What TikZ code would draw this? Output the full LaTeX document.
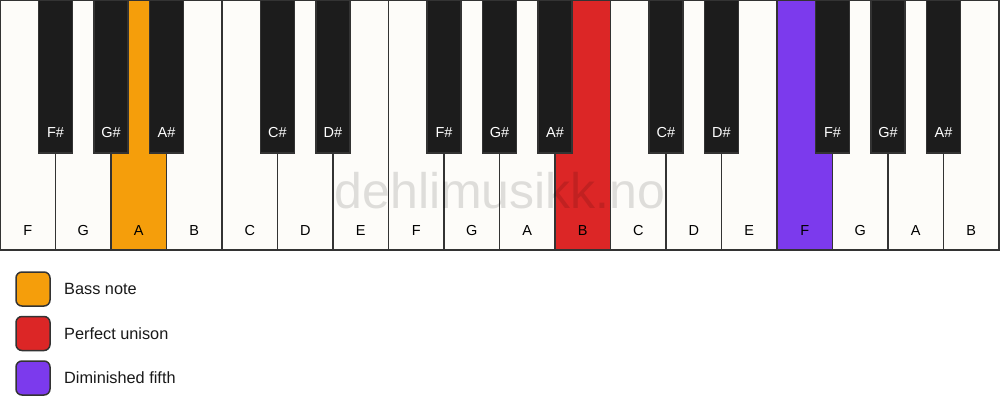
\documentclass[tikz,border=0pt]{standalone}
\usepackage{fontspec}
\setmainfont{Liberation Sans}
\definecolor{kw}{HTML}{FDFCF9}
\definecolor{kb}{HTML}{1C1C1C}
\definecolor{kline}{HTML}{333333}
\definecolor{bass}{HTML}{F59E0B}
\definecolor{unison}{HTML}{DC2626}
\definecolor{dimfifth}{HTML}{7C3AED}
\tikzset{
  whitekey/.style={draw=kline, line width=1.5pt, rectangle, minimum width=55.5pt, minimum height=250pt, inner sep=0pt, outer sep=0pt},
  blackkey/.style={draw=kline, line width=1.2pt, fill=kb, rectangle, minimum width=34pt, minimum height=153pt, inner sep=0pt, outer sep=0pt},
  wlabel/.style={font=\fontsize{14.5}{14.5}\selectfont, text=black, inner sep=0pt},
  blabel/.style={font=\fontsize{14.5}{14.5}\selectfont, text=white, inner sep=0pt},
  legendbox/.style={draw=kline, line width=1.5pt, rounded corners=6pt, rectangle, minimum width=34pt, minimum height=34pt, inner sep=0pt},
  legendtext/.style={font=\fontsize{16.3}{16.3}\selectfont, text=black!90, anchor=west, inner sep=0pt},
  watermark/.style={font=\fontsize{50}{50}\selectfont, text=black, text opacity=0.12, inner sep=0pt, anchor=base}
}
\begin{document}
\begin{tikzpicture}[x=1pt,y=-1pt]
\useasboundingbox (0,0) rectangle (1000,417);
\fill[white] (0,0) rectangle (1000,417);
% white keys
\foreach \n/\c [count=\i from 0] in {F/kw,G/kw,A/bass,B/kw,C/kw,D/kw,E/kw,F/kw,G/kw,A/kw,B/unison,C/kw,D/kw,E/kw,F/dimfifth,G/kw,A/kw,B/kw}{
  \pgfmathsetmacro\xc{55.5*\i+27.75}
  \node[whitekey, fill=\c] (w\i) at (\xc,125) {};
}
% black keys
\foreach \k/\n in {1/F\#,2/G\#,3/A\#,5/C\#,6/D\#,8/F\#,9/G\#,10/A\#,12/C\#,13/D\#,15/F\#,16/G\#,17/A\#}{
  \pgfmathsetmacro\xb{55.5*\k}
  \node[blackkey] (b\k) at (\xb,76.5) {};
  \node[blabel] (bl\k) at (\xb,133) {\n};
}
% watermark
\node[watermark] (wm) at (500,208) {dehlimusikk.no};
% white key labels
\foreach \n [count=\i from 0] in {F,G,A,B,C,D,E,F,G,A,B,C,D,E,F,G,A,B}{
  \pgfmathsetmacro\xc{55.5*\i+27.75}
  \node[wlabel] (wl\i) at (\xc,231) {\n};
}
% legend
\node[legendbox, fill=bass] (lg1) at (33,289) {};
\node[legendtext] (lt1) at (64,289) {Bass note};
\node[legendbox, fill=unison] (lg2) at (33,333.5) {};
\node[legendtext] (lt2) at (64,333.5) {Perfect unison};
\node[legendbox, fill=dimfifth] (lg3) at (33,378) {};
\node[legendtext] (lt3) at (64,378) {Diminished fifth};
\end{tikzpicture}
\end{document}
